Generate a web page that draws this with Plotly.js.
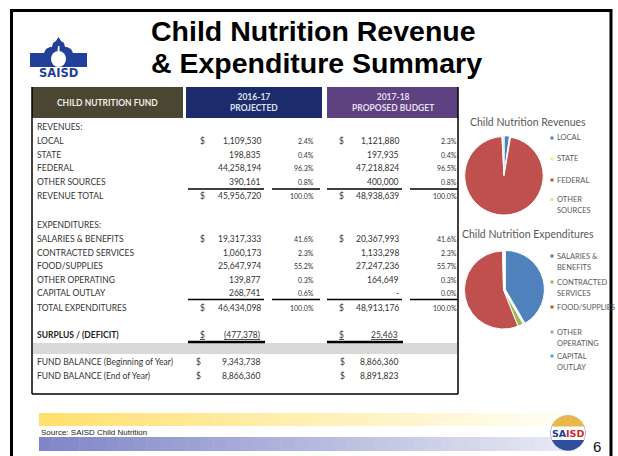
<!DOCTYPE html>
<html><head><meta charset="utf-8">
<script src="https://cdn.plot.ly/plotly-3.0.1.min.js"></script>
<style>html,body{margin:0;padding:0;background:#fff;overflow:hidden}#chart{width:618px;height:456px}</style>
</head><body><div id="chart"></div>
<script>
// ---------------- DATA ----------------
const revenueLabels = ['LOCAL', 'STATE', 'FEDERAL', 'OTHER SOURCES'];
const revenueLegend = ['LOCAL', 'STATE', 'FEDERAL', 'OTHER<br>SOURCES'];
const revenue1617 = [1109530, 198835, 44258194, 390161];
const revenuePct1617 = [2.4, 0.4, 96.3, 0.8];
const revenue1718 = [1121880, 197935, 47218824, 400000];
const revenuePct1718 = [2.3, 0.4, 96.5, 0.8];
const revenueTotal = [45956720, 48938639];

const expenditureLabels = ['SALARIES & BENEFITS', 'CONTRACTED SERVICES', 'FOOD/SUPPLIES', 'OTHER OPERATING', 'CAPITAL OUTLAY'];
const expenditureLegend = ['SALARIES &<br>BENEFITS', 'CONTRACTED<br>SERVICES', 'FOOD/SUPPLIES', 'OTHER<br>OPERATING', 'CAPITAL<br>OUTLAY'];
const expenditure1617 = [19317333, 1060173, 25647974, 139877, 268741];
const expenditurePct1617 = [41.6, 2.3, 55.2, 0.3, 0.6];
const expenditure1718 = [20367993, 1133298, 27247236, 164649, 0];
const expenditurePct1718 = [41.6, 2.3, 55.7, 0.3, 0.0];
const expenditureTotal = [46434098, 48913176];

const surplus = [-477378, 25463];
const fundBalanceBegin = [9343738, 8866360];
const fundBalanceEnd = [8866360, 8891823];
const columnHeaders = ['2016-17<br>PROJECTED', '2017-18<br>PROPOSED BUDGET'];

const revenueColors = ['#4F81BD', '#F5F06A', '#C0504D', '#D7E4A8'];
const expenditureColors = ['#4F81BD', '#9BBB59', '#C0504D', '#B3A2C7', '#4BACC6'];

// ---------------- HELPERS ----------------
const W = 618, H = 456;
const px = x => x / W, py = y => 1 - y / H;
const BODY = 'Lato, "Open Sans", sans-serif';
const ann = [], shapes = [];
function txt(x, y, text, o) {
  o = o || {};
  ann.push({xref: 'paper', yref: 'paper', x: px(x), y: py(y), text: text, showarrow: false,
    xanchor: o.xa || 'left', yanchor: o.ya || 'middle', align: o.align || 'left',
    borderpad: 0, borderwidth: 0,
    font: {family: o.family || BODY, size: o.size || 8.5, color: o.color || '#333', weight: o.weight || 400}});
}
function rect(x0, y0, x1, y1, fill, lineColor, lw) {
  shapes.push({type: 'rect', xref: 'paper', yref: 'paper', x0: px(x0), x1: px(x1), y0: py(y1), y1: py(y0),
    fillcolor: fill || 'rgba(0,0,0,0)', line: {color: lineColor || 'rgba(0,0,0,0)', width: lw || 0}, layer: 'below'});
}
function line(x0, y0, x1, y1, color, w) {
  shapes.push({type: 'line', xref: 'paper', yref: 'paper', x0: px(x0), x1: px(x1), y0: py(y0), y1: py(y1),
    line: {color: color || '#000', width: w || 1.3}});
}
function path(pts, fill) {
  const d = pts.map((p, i) => (i ? 'L' : 'M') + px(p[0]).toFixed(5) + ',' + py(p[1]).toFixed(5)).join(' ') + ' Z';
  shapes.push({type: 'path', xref: 'paper', yref: 'paper', path: d, fillcolor: fill, line: {width: 0}});
}
const fmt = v => v === 0 ? '-' : (v < 0 ? '(' + (-v).toLocaleString('en-US') + ')' : v.toLocaleString('en-US'));
const pct = v => v.toFixed(1) + '%';
const lerp = (a, b, t) => Math.round(a + (b - a) * t);

// ---------------- FRAME ----------------
rect(11.5, 10.5, 611, 470, null, '#000', 3);

// ---------------- TITLE ----------------
txt(313, 31, 'Child Nutrition Revenue', {xa: 'center', family: '"Liberation Sans", Arial, sans-serif', size: 28.5, weight: 700, color: '#000'});
txt(316, 63, '& Expenditure Summary', {xa: 'center', family: '"Liberation Sans", Arial, sans-serif', size: 28.5, weight: 700, color: '#000'});

// ---------------- LOGO (top-left) ----------------
path([[30,67],[30,53],[44,53],[46,49],[50,47],[52,47],[53,43],[56,41],[58.5,37],[61,41],[64,43],[65,47],[67,47],[71,49],[73,53],[87,53],[87,67]], '#22409A');
shapes.push({type: 'circle', xref: 'paper', yref: 'paper', x0: px(51), x1: px(66), y0: py(67), y1: py(51), fillcolor: '#fff', line: {width: 0}});
path([[57.5,51],[58,46],[59.5,46],[59.5,51]], '#fff');
txt(58.5, 73, 'SAISD', {xa: 'center', family: '"DejaVu Sans", sans-serif', size: 11.5, weight: 700, color: '#22409A'});

// ---------------- TABLE HEADER ----------------
rect(32, 87, 183, 118, '#4B4631');
rect(186, 87, 322, 118, '#1C2B6B');
rect(327, 87, 458, 118, '#5E4180');
txt(107.5, 103, 'CHILD NUTRITION FUND', {xa: 'center', size: 8.5, weight: 700, color: '#EDEDE6'});
txt(254, 103, columnHeaders[0], {xa: 'center', align: 'center', size: 8.5, weight: 700, color: '#DDE2F2'});
txt(392.5, 103, columnHeaders[1], {xa: 'center', align: 'center', size: 8.5, weight: 700, color: '#E6DEF0'});

// table border
line(32, 87, 32, 394, '#000', 1.5);
line(458, 87, 458, 394, '#000', 1.5);
line(32, 394, 458, 394, '#000', 1.5);
// grey band
rect(33, 343, 457, 354, '#D9D9D9');

// ---------------- TABLE BODY ----------------
const C = {d1: 202, v1: 261, p1: 314, d2: 341, v2: 399, p2: 457};
function dataRow(y, label, a, pa, b, pb, dollar) {
  txt(37, y, label);
  if (dollar) { txt(C.d1, y, '$', {xa: 'center'}); txt(C.d2, y, '$', {xa: 'center'}); }
  txt(C.v1, y, fmt(a), {xa: 'right'});
  txt(C.p1, y, pct(pa), {xa: 'right', size: 7});
  txt(C.v2, y, b === 0 ? '-' : fmt(b), {xa: 'right'});
  txt(C.p2, y, pct(pb), {xa: 'right', size: 7});
}
const revY0 = 141, step = 13.6;
txt(37, 127.5, 'REVENUES:');
revenueLabels.forEach((l, i) => dataRow(revY0 + i * step, l, revenue1617[i], revenuePct1617[i], revenue1718[i], revenuePct1718[i], i === 0));
dataRow(195.5, 'REVENUE TOTAL', revenueTotal[0], 100, revenueTotal[1], 100, true);

const expY0 = 239;
txt(37, 225, 'EXPENDITURES:');
expenditureLabels.forEach((l, i) => dataRow(expY0 + i * step, l, expenditure1617[i], expenditurePct1617[i], expenditure1718[i], expenditurePct1718[i], i === 0));
dataRow(307.5, 'TOTAL EXPENDITURES', expenditureTotal[0], 100, expenditureTotal[1], 100, true);

[[189, 1.3], [299.5, 1.3]].forEach(([y, w]) => {
  line(188, y, 264, y, '#000', w); line(272, y, 320, y, '#000', w);
  line(327, y, 402, y, '#000', w); line(410, y, 458, y, '#000', w);
});

txt(37, 335, 'SURPLUS / (DEFICIT)', {weight: 700, color: '#222'});
txt(C.d1, 335, '<u>$</u>', {xa: 'center'});
txt(C.v1 - 1, 335, '<u>' + fmt(surplus[0]) + '</u>', {xa: 'right'});
txt(C.d2, 335, '<u>$</u>', {xa: 'center'});
txt(C.v2 - 1, 335, '<u>' + fmt(surplus[1]) + '</u>', {xa: 'right'});
line(188, 342, 265, 342, '#000', 2.5);
line(327, 342, 403, 342, '#000', 2.5);

txt(37, 362, 'FUND BALANCE (Beginning of Year)');
txt(37, 375.5, 'FUND BALANCE (End of Year)');
txt(198, 362, '$', {xa: 'center'}); txt(198, 375.5, '$', {xa: 'center'});
txt(342, 362, '$', {xa: 'center'}); txt(342, 375.5, '$', {xa: 'center'});
txt(260, 362, fmt(fundBalanceBegin[0]), {xa: 'right'});
txt(260, 375.5, fmt(fundBalanceEnd[0]), {xa: 'right'});
txt(398, 362, fmt(fundBalanceBegin[1]), {xa: 'right'});
txt(398, 375.5, fmt(fundBalanceEnd[1]), {xa: 'right'});

// ---------------- PIE TITLES & LEGENDS ----------------
txt(528, 122, 'Child Nutrition Revenues', {xa: 'center', size: 10.5, color: '#595959'});
txt(528, 234.5, 'Child Nutrition Expenditures', {xa: 'center', size: 10.5, color: '#595959'});
function legend(labels, colors, ys) {
  labels.forEach((l, i) => {
    rect(550.5, ys[i] - 1.5, 553.5, ys[i] + 1.5, colors[i]);
    l.split('<br>').forEach((part, j) => txt(557, ys[i] + j * 11, part, {size: 7.5, color: '#595959'}));
  });
}
legend(revenueLegend, revenueColors, [138, 159, 180, 199.5]);
legend(expenditureLegend, expenditureColors, [256, 282, 307, 332, 356]);

// ---------------- FOOTER ----------------
const N = 40;
for (let k = 0; k < N; k++) {
  const t = k / (N - 1);
  const x0 = 39 + k * (536 / N), x1 = x0 + 536 / N + 0.5;
  const ty = Math.min(1, t * 1.05);
  rect(x0, 413, x1, 426, `rgb(${lerp(255,255,ty)},${lerp(224,253,ty)},${lerp(110,240,ty)})`);
  rect(x0, 437, x1, 451, `rgb(${lerp(128,232,t)},${lerp(134,234,t)},${lerp(200,244,t)})`);
}
txt(41, 432.5, 'Source: SAISD Child Nutrition', {family: '"Liberation Sans", Arial, sans-serif', size: 8, color: '#222'});

// footer logo
const cx = 568, cy = 433, r = 17.5;
shapes.push({type: 'circle', xref: 'paper', yref: 'paper', x0: px(cx - r), x1: px(cx + r), y0: py(cy + r), y1: py(cy - r), fillcolor: '#fff', line: {color: '#9aa6c8', width: 0.8}});
function cap(yCut, top) {
  const hw = Math.sqrt(r * r - (yCut - cy) * (yCut - cy));
  const pts = [];
  for (let k = 0; k <= 72; k++) {
    const th = k / 72 * 2 * Math.PI;
    let x = cx + r * Math.cos(th), y = cy + r * Math.sin(th);
    if (top ? y > yCut : y < yCut) { y = yCut; x = Math.max(cx - hw, Math.min(cx + hw, x)); }
    pts.push([x, y]);
  }
  return pts;
}
path(cap(426.5, true), '#E8B94A');
path(cap(440, false), '#2F4E9E');
txt(559.5, 433.5, 'SA', {xa: 'center', family: '"DejaVu Sans", sans-serif', size: 9.5, weight: 700, color: '#1E3E9A'});
txt(574.5, 433.5, 'ISD', {xa: 'center', family: '"DejaVu Sans", sans-serif', size: 9.5, weight: 700, color: '#D0282A'});
txt(597, 446, '6', {xa: 'center', family: '"Liberation Sans Narrow", "Liberation Sans", sans-serif', size: 15, color: '#111'});

// ---------------- PIES ----------------
const revC = [504, 175], revR = 40;
const expC = [503.5, 290], expR = 41;
const traces = [
  {type: 'pie', labels: revenueLabels, values: revenue1718, sort: false, direction: 'clockwise', rotation: 0,
   marker: {colors: revenueColors, line: {color: '#fff', width: 1}}, textinfo: 'none', showlegend: false,
   pull: [0, 0, 0.02, 0],
   domain: {x: [px(revC[0] - revR), px(revC[0] + revR)], y: [py(revC[1] + revR), py(revC[1] - revR)]}},
  {type: 'pie', labels: expenditureLabels, values: expenditure1718, sort: false, direction: 'clockwise', rotation: 0,
   marker: {colors: expenditureColors, line: {color: '#fff', width: 1}}, textinfo: 'none', showlegend: false,
   pull: [0.05, 0, 0, 0, 0],
   domain: {x: [px(expC[0] - expR), px(expC[0] + expR)], y: [py(expC[1] + expR), py(expC[1] - expR)]}}
];

Plotly.newPlot('chart', traces, {
  width: W, height: H, margin: {l: 0, r: 0, t: 0, b: 0}, paper_bgcolor: '#fff',
  showlegend: false, annotations: ann, shapes: shapes
}, {displayModeBar: false, staticPlot: true});
</script></body></html>
